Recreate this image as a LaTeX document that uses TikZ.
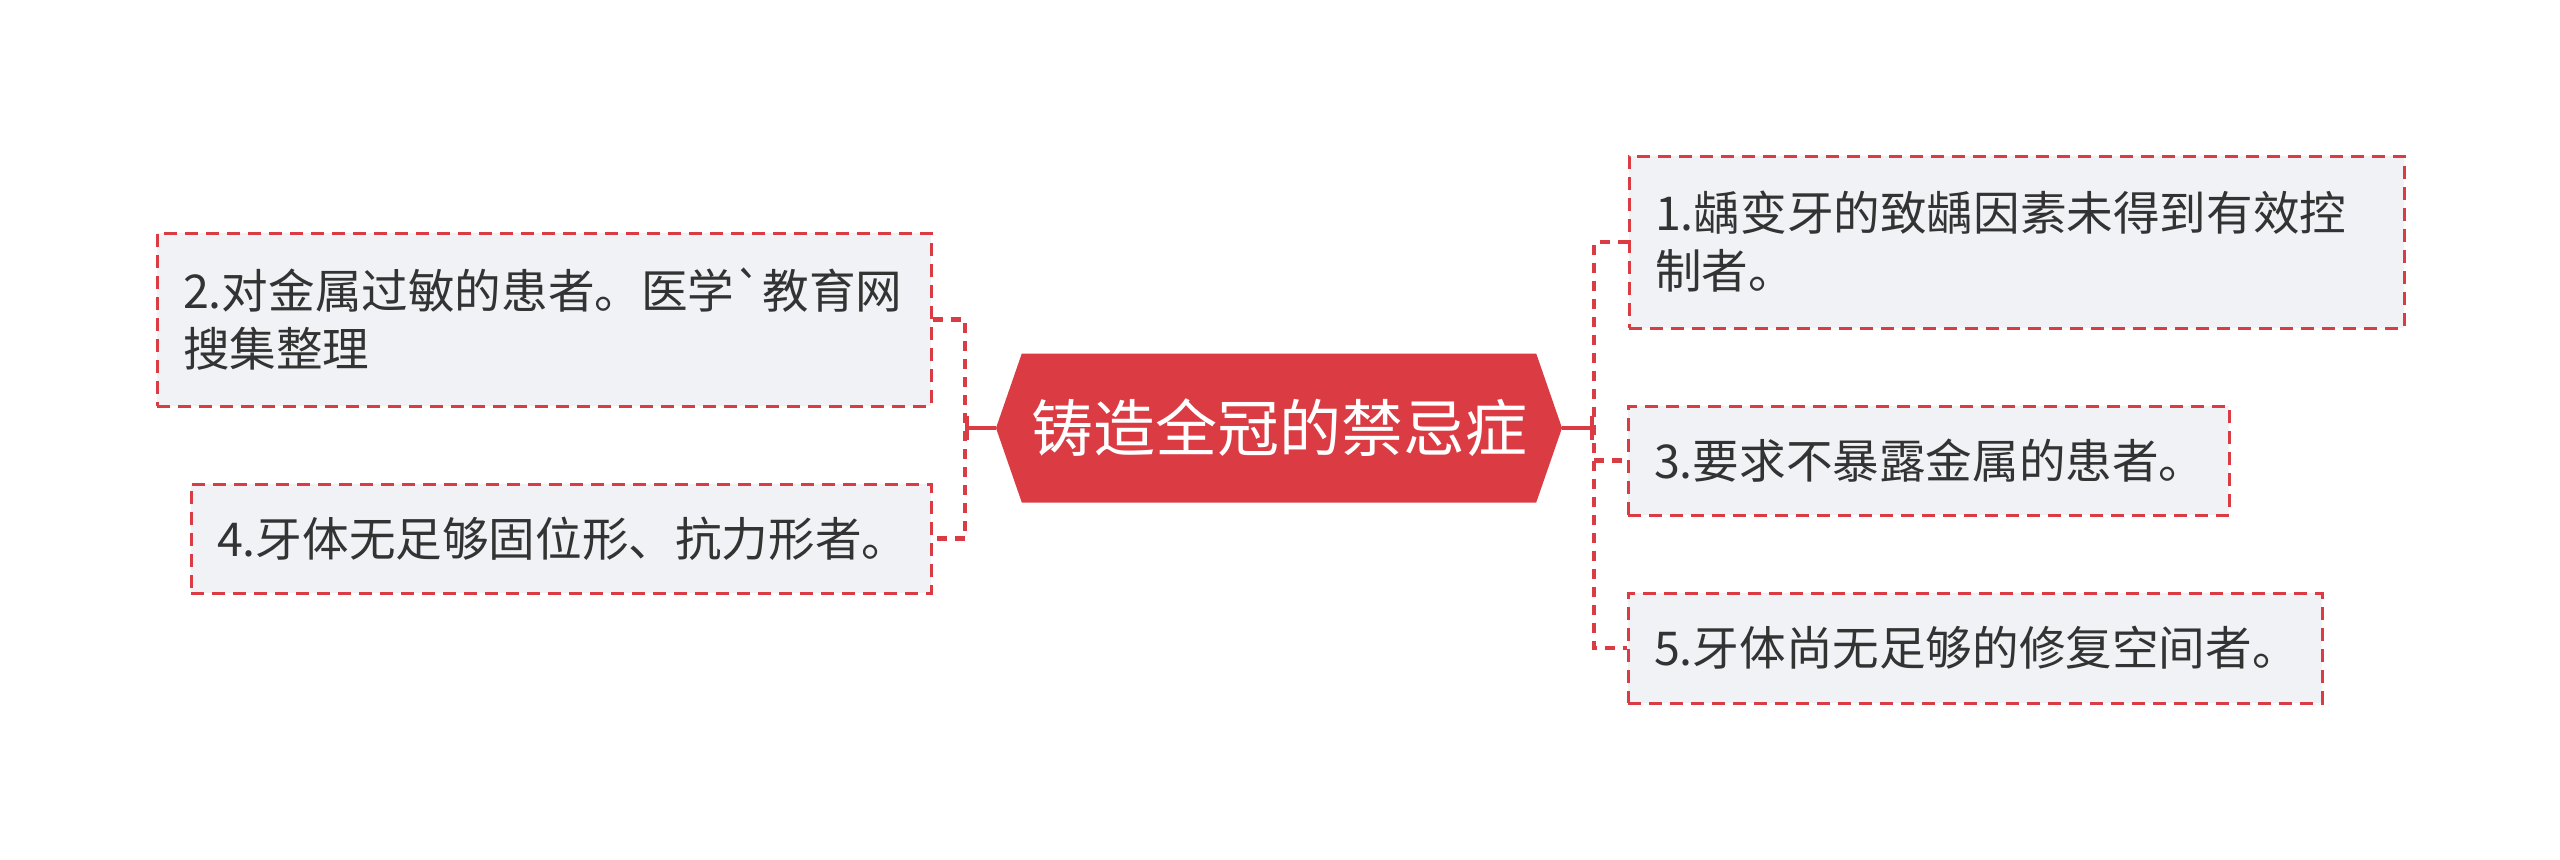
\documentclass[tikz,border=0pt]{standalone}
\usepackage{fontspec}
\usepackage{xcolor}
\usepackage{tikz}
\usetikzlibrary{arrows.meta,shapes.symbols}
\newfontfamily\cjk{Noto Sans CJK SC}
\definecolor{mapred}{RGB}{219,59,67}
\definecolor{leaffill}{RGB}{240,242,245}
\definecolor{leaftext}{RGB}{51,51,51}

\begin{document}
\begin{tikzpicture}[x=0.5pt, y=-0.5pt,
    hub/.style={shape=signal, signal to=west and east, signal pointer angle=141.8,
      fill=mapred, text=white, minimum width=283pt, minimum height=74.5pt, inner sep=0pt,
      font=\cjk\fontsize{31}{37}\selectfont},
    leaf/.style={draw=mapred, line width=1.5pt, dash pattern=on 6.5pt off 4pt,
      fill=leaffill, text=leaftext, align=left, inner xsep=13pt, inner ysep=0pt,
      font=\cjk\fontsize{23.3}{29}\selectfont},
    link/.style={draw=mapred, line width=2.2pt, dash pattern=on 5pt off 4pt},
    stem/.style={draw=mapred, line width=2.2pt, -{Bar[width=12pt]}}]
\fill[white] (0,0) rectangle (2560,859);
\useasboundingbox (0,0) rectangle (2560,859);
% centre topic
\node[hub] (hub) at (1279,428) {铸造全冠的禁忌症};
% left branches
\node[leaf, text width=361pt, minimum height=86.5pt] (c2) at (544,319.5)
  {2.对金属过敏的患者。医学{\char96}教育网\\搜集整理};
\node[leaf, text width=344pt, minimum height=54.5pt] (c4) at (561,538.5)
  {4.牙体无足够固位形、抗力形者。};
% right branches
\node[leaf, text width=361.5pt, minimum height=86pt] (c1) at (2016.5,242)
  {1.龋变牙的致龋因素未得到有效控\\制者。};
\node[leaf, text width=274.5pt, minimum height=54.5pt] (c3) at (1928.5,460.5)
  {3.要求不暴露金属的患者。};
\node[leaf, text width=321pt, minimum height=55pt] (c5) at (1975,648)
  {5.牙体尚无足够的修复空间者。};
% connectors
\coordinate (lj) at (965,428);
\coordinate (rj) at (1594,428);
\draw[stem] (hub.west) -- (lj);
\draw[stem] (hub.east) -- (rj);
\draw[link] (c2.east) -| (lj) |- (c4.east);
\draw[link] (c1.west) -| (rj) |- (c5.west);
\draw[link] (c3.west -| rj) -- (c3.west);
\end{tikzpicture}
\end{document}
